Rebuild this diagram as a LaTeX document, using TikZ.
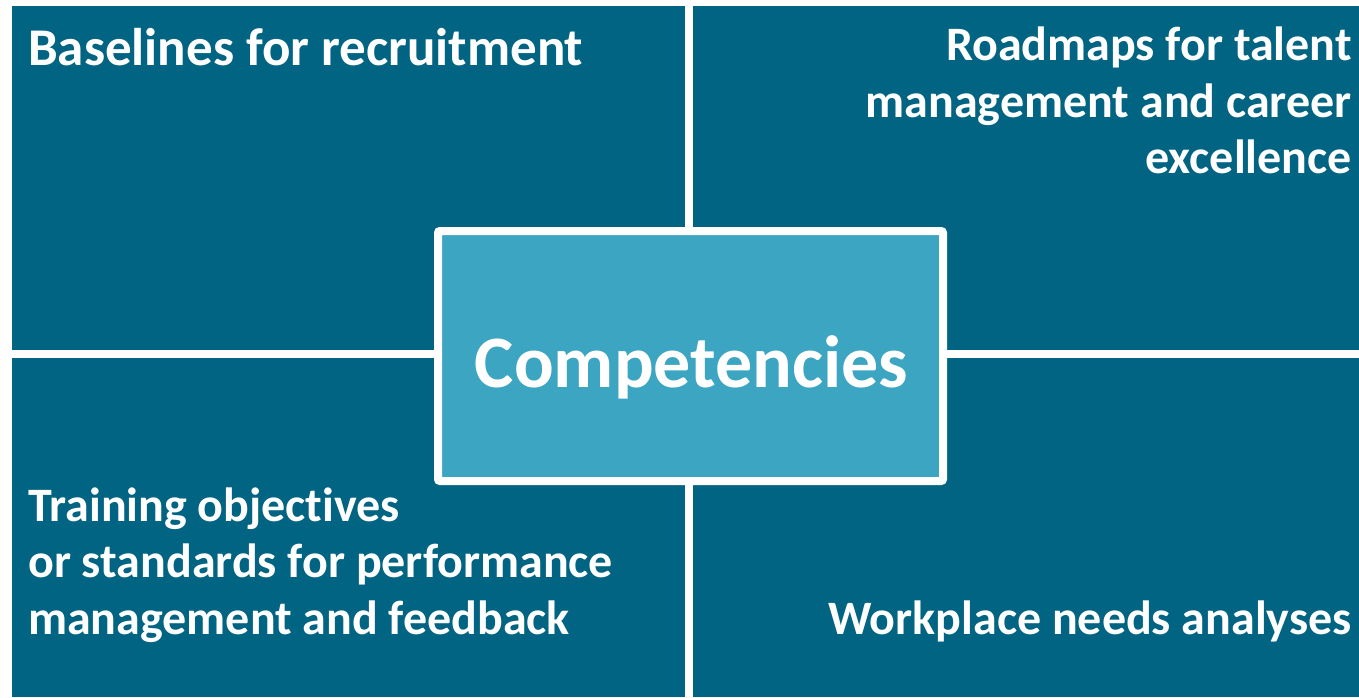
\documentclass[tikz,border=0pt]{standalone}
\usepackage{fontspec}
\setmainfont[Ligatures={NoCommon,NoRare,NoContextual}]{Carlito}
\definecolor{darkteal}{RGB}{0,100,130}
\definecolor{lightteal}{RGB}{60,165,194}
\begin{document}
\begin{tikzpicture}[x=1pt,y=-1pt,
  quad/.style={fill=darkteal,draw=none},
  qtext/.style={text=white,font=\fontsize{48}{56}\selectfont\bfseries,inner sep=0pt},
  centerbox/.style={fill=lightteal,draw=white,line width=8pt,rounded corners=2pt}]
\useasboundingbox (0,0) rectangle (1359,697);
\fill[white] (0,0) rectangle (1359,697);
\path[quad] (12,6) rectangle (685,350);
\path[quad] (693,6) rectangle (1359,350);
\path[quad] (12,358) rectangle (685,697);
\path[quad] (693,358) rectangle (1359,697);
\node[centerbox,minimum width=505pt,minimum height=250pt,inner sep=0pt] (c) at (690.5,356) {};
\node[text=white,font=\fontsize{74}{80}\selectfont\bfseries,inner sep=0pt,anchor=base] (ct) at (691.5,387) {Competencies};
\node[qtext,font=\fontsize{53}{56}\selectfont\bfseries,anchor=base west] (tl) at (28,65) {Baselines for recruitment};
\node[qtext,anchor=base east] (tr) at (1352,60) {Roadmaps for talent};
\node[qtext,anchor=base east] (tr2) at (1352,117) {management and career};
\node[qtext,anchor=base east] (tr3) at (1352,173) {excellence};
\node[qtext,anchor=base west] (bl1) at (28,521) {Training objectives};
\node[qtext,anchor=base west] (bl2) at (28,577) {or standards for performance};
\node[qtext,anchor=base west] (bl3) at (28,634) {management and feedback};
\node[qtext,anchor=base east] (br) at (1352,634) {Workplace needs analyses};
\end{tikzpicture}
\end{document}
